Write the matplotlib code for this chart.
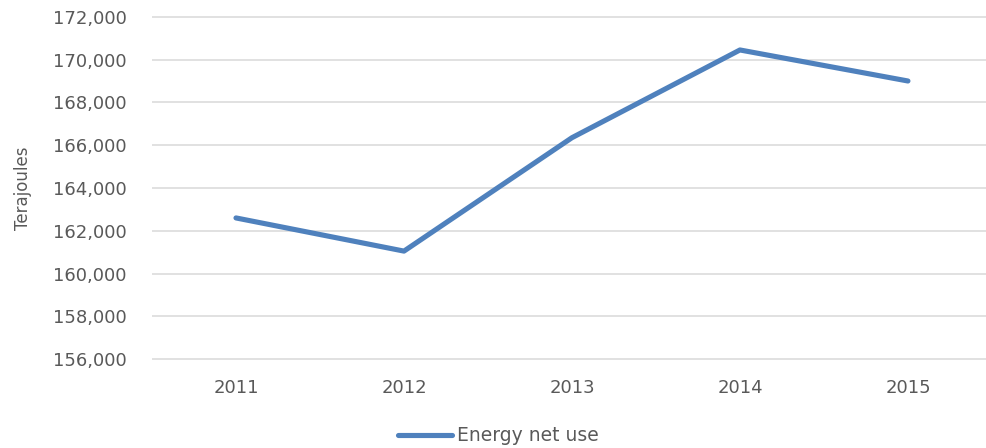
import matplotlib
matplotlib.use("Agg")
import matplotlib.pyplot as plt
from matplotlib.ticker import FuncFormatter


years = ["2011", "2012", "2013", "2014", "2015"]

energy_net_use = [162600, 161050, 166350, 170450, 169000]

y_ticks = [156000, 158000, 160000, 162000, 164000, 166000, 168000, 170000, 172000]


plt.rcParams["font.family"] = ["DejaVu Sans"]

text_gray = "#595959"
line_blue = "#4f81bd"

fig = plt.figure(figsize=(9.87, 4.48), dpi=100)

ax = fig.add_axes([0.154, 0.1964, 0.851, 0.768])

x = list(range(len(years)))

ax.plot(
    x,
    energy_net_use,
    color=line_blue,
    linewidth=3.7,
    solid_capstyle="round",
    solid_joinstyle="round",
    label="Energy net use",
    zorder=3
)

# small margin so the outer gridlines are not clipped in half
ax.set_xlim(-0.5, len(years) - 0.5)
ax.set_ylim(y_ticks[0] - 40, y_ticks[-1] + 40)

ax.set_yticks(y_ticks)
ax.yaxis.set_major_formatter(FuncFormatter(lambda v, p: f"{int(v):,}"))

ax.set_xticks(x)
ax.set_xticklabels(years)

ax.grid(axis="y", color="#d9d9d9", linewidth=1.1, zorder=0)
ax.set_axisbelow(True)

for side in ["top", "right", "left", "bottom"]:
    ax.spines[side].set_visible(False)

ax.tick_params(axis="both", length=0, labelsize=13, labelcolor=text_gray)
ax.tick_params(axis="y", pad=18)
ax.tick_params(axis="x", pad=14)

ax.set_ylabel("Terajoules", fontsize=12, color=text_gray)
ax.yaxis.set_label_coords(-0.143, 0.5)

fig.legend(
    loc="center left",
    bbox_to_anchor=(398 / 987, 0.027),
    frameon=False,
    fontsize=13.5,
    labelcolor=text_gray,
    handlelength=2.9,
    handletextpad=0.25,
    borderpad=0,
    borderaxespad=0
)

fig.savefig("out.png", dpi=100)
